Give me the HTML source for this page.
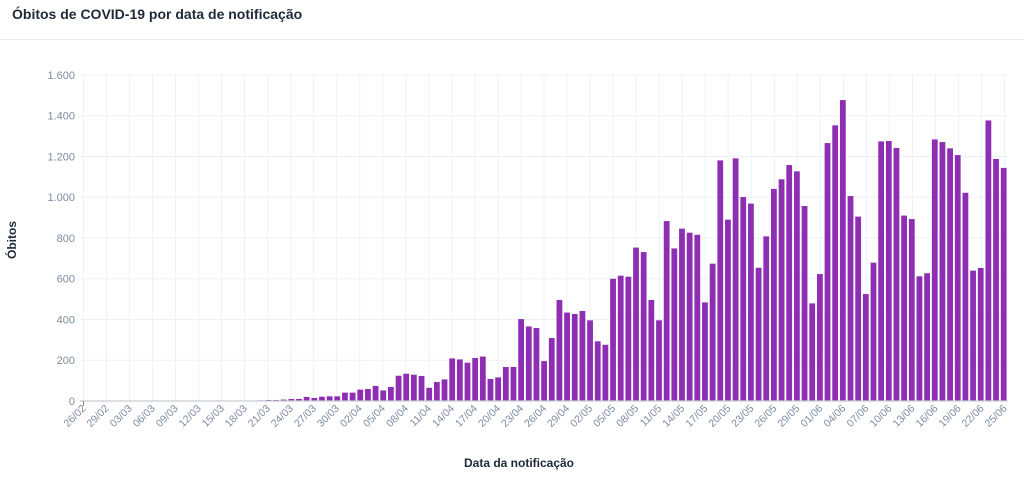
<!DOCTYPE html>
<html><head><meta charset="utf-8"><style>
body{margin:0;background:#fff;width:1024px;height:474px;overflow:hidden;font-family:"Liberation Sans","DejaVu Sans",sans-serif}
</style></head><body>
<svg id="s" width="1024" height="474" xmlns="http://www.w3.org/2000/svg" font-family="Liberation Sans, DejaVu Sans, sans-serif">
<text x="12" y="19" font-size="14" font-weight="bold" fill="#1f2937">Óbitos de COVID-19 por data de notificação</text>
<line x1="0" y1="39.5" x2="1024" y2="39.5" stroke="#e8ecf1" stroke-width="1"/>
<g id="grid" stroke="#edf1f7" stroke-width="1"></g>
<g id="bars" fill="#8e2fb3"></g>
<line x1="80" y1="401" x2="1008" y2="401" stroke="#c8ccd2" stroke-width="1.2"/>
<line x1="83.5" y1="401" x2="83.5" y2="406" stroke="#888" stroke-width="1"/>
<g font-size="11" fill="#7d8ba3" text-anchor="end">
<text x="75" y="79">1.600</text><text x="75" y="119.5">1.400</text><text x="75" y="160.3">1.200</text><text x="75" y="201">1.000</text><text x="75" y="242">800</text><text x="75" y="282.5">600</text><text x="75" y="323.3">400</text><text x="75" y="364">200</text><text x="75" y="405">0</text>
</g>
<g id="xl" font-size="10.5" fill="#7d8ba3" text-anchor="end">
<text transform="translate(86.5,409) rotate(-45)">26/02</text>
<text transform="translate(109.5,409) rotate(-45)">29/02</text>
<text transform="translate(132.6,409) rotate(-45)">03/03</text>
<text transform="translate(155.6,409) rotate(-45)">06/03</text>
<text transform="translate(178.6,409) rotate(-45)">09/03</text>
<text transform="translate(201.6,409) rotate(-45)">12/03</text>
<text transform="translate(224.7,409) rotate(-45)">15/03</text>
<text transform="translate(247.7,409) rotate(-45)">18/03</text>
<text transform="translate(270.7,409) rotate(-45)">21/03</text>
<text transform="translate(293.7,409) rotate(-45)">24/03</text>
<text transform="translate(316.8,409) rotate(-45)">27/03</text>
<text transform="translate(339.8,409) rotate(-45)">30/03</text>
<text transform="translate(362.8,409) rotate(-45)">02/04</text>
<text transform="translate(385.8,409) rotate(-45)">05/04</text>
<text transform="translate(408.9,409) rotate(-45)">08/04</text>
<text transform="translate(431.9,409) rotate(-45)">11/04</text>
<text transform="translate(454.9,409) rotate(-45)">14/04</text>
<text transform="translate(477.9,409) rotate(-45)">17/04</text>
<text transform="translate(501,409) rotate(-45)">20/04</text>
<text transform="translate(524,409) rotate(-45)">23/04</text>
<text transform="translate(547,409) rotate(-45)">26/04</text>
<text transform="translate(570,409) rotate(-45)">29/04</text>
<text transform="translate(593,409) rotate(-45)">02/05</text>
<text transform="translate(616,409) rotate(-45)">05/05</text>
<text transform="translate(639.1,409) rotate(-45)">08/05</text>
<text transform="translate(662.1,409) rotate(-45)">11/05</text>
<text transform="translate(685.2,409) rotate(-45)">14/05</text>
<text transform="translate(708.2,409) rotate(-45)">17/05</text>
<text transform="translate(731.2,409) rotate(-45)">20/05</text>
<text transform="translate(754.2,409) rotate(-45)">23/05</text>
<text transform="translate(777.3,409) rotate(-45)">26/05</text>
<text transform="translate(800.3,409) rotate(-45)">29/05</text>
<text transform="translate(823.3,409) rotate(-45)">01/06</text>
<text transform="translate(846.3,409) rotate(-45)">04/06</text>
<text transform="translate(869.4,409) rotate(-45)">07/06</text>
<text transform="translate(892.4,409) rotate(-45)">10/06</text>
<text transform="translate(915.4,409) rotate(-45)">13/06</text>
<text transform="translate(938.4,409) rotate(-45)">16/06</text>
<text transform="translate(961.5,409) rotate(-45)">19/06</text>
<text transform="translate(984.5,409) rotate(-45)">22/06</text>
<text transform="translate(1007.5,409) rotate(-45)">25/06</text>
</g>
<text transform="translate(16,240) rotate(-90)" font-size="12" font-weight="bold" fill="#1f2937" text-anchor="middle">Óbitos</text>
<text x="519" y="467" font-size="12" font-weight="bold" fill="#1f2937" text-anchor="middle">Data da notificação</text>
</svg>
<script>
var v=[0,0,0,0,0,0,0,0,0,0,0,0,0,0,0,0,0,0,0,0,1,1,2,3,5,5,7,10,10,20,15,21,23,23,41,41,56,59,74,52,69,124,134,129,123,65,93,106,209,204,188,211,218,108,116,167,167,402,366,358,196,309,496,434,427,442,396,293,276,600,615,610,753,731,496,396,883,749,846,826,816,484,674,1181,890,1191,1001,969,654,808,1041,1088,1158,1127,957,479,623,1266,1353,1477,1006,905,525,679,1274,1276,1242,910,893,612,627,1284,1271,1240,1207,1022,640,653,1377,1188,1144];
var ns="http://www.w3.org/2000/svg",g=document.getElementById('grid'),b=document.getElementById('bars');
for(var i=0;i<=8;i++){var y=401-i*40.75;var l=document.createElementNS(ns,'line');l.setAttribute('x1',80);l.setAttribute('x2',1008);l.setAttribute('y1',y);l.setAttribute('y2',y);g.appendChild(l);}
for(var k=0;k<=40;k++){var x=83.5+23.025*k;var l=document.createElementNS(ns,'line');l.setAttribute('x1',x);l.setAttribute('x2',x);l.setAttribute('y1',74);l.setAttribute('y2',401);g.appendChild(l);}
for(var i=0;i<v.length;i++){if(!v[i])continue;var c=84.5+7.66*i;var h=v[i]*326/1600;var r=document.createElementNS(ns,'rect');r.setAttribute('x',c-2.9);r.setAttribute('width',5.8);r.setAttribute('y',401-h);r.setAttribute('height',h);b.appendChild(r);}
</script>
</body></html>
